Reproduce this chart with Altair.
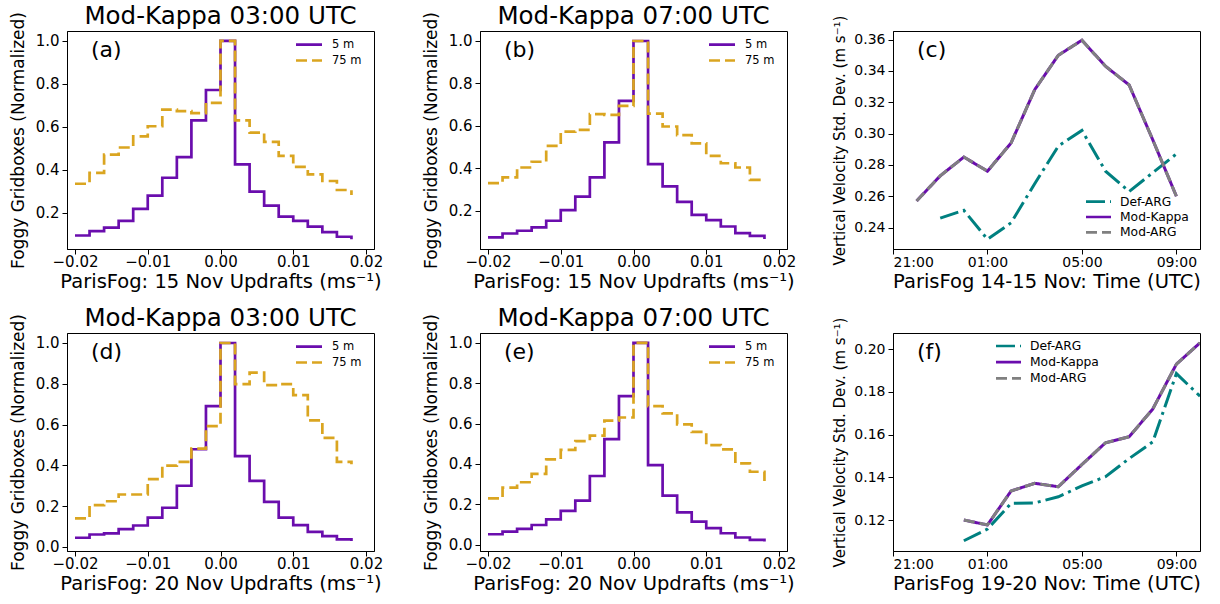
import altair as alt
import pandas as pd

FONT = "DejaVu Sans"

# ---------------- data ----------------
hist_edges = [-0.020, -0.018, -0.016, -0.014, -0.012, -0.010, -0.008, -0.006, -0.004, -0.002,
              0.000, 0.002, 0.004, 0.006, 0.008, 0.010, 0.012, 0.014, 0.016, 0.018]
hist_xticks = [-0.02, -0.01, 0.0, 0.01, 0.02]
hist_series = ["5 m", "75 m"]

a_5m = [0.093, 0.113, 0.130, 0.161, 0.217, 0.279, 0.362, 0.458, 0.629, 0.771,
        1.0, 0.424, 0.297, 0.232, 0.181, 0.161, 0.134, 0.109, 0.087, 0.076]
a_75m = [0.334, 0.385, 0.470, 0.503, 0.555, 0.602, 0.680, 0.673, 0.663, 0.711,
         1.0, 0.629, 0.572, 0.529, 0.464, 0.413, 0.378, 0.347, 0.305, 0.282]
b_5m = [0.075, 0.093, 0.106, 0.122, 0.153, 0.203, 0.267, 0.357, 0.522, 0.718,
        1.0, 0.420, 0.315, 0.242, 0.181, 0.156, 0.126, 0.095, 0.082, 0.067]
b_75m = [0.330, 0.357, 0.404, 0.431, 0.506, 0.573, 0.581, 0.655, 0.652, 0.694,
         1.0, 0.658, 0.597, 0.556, 0.518, 0.459, 0.424, 0.404, 0.346, 0.340]
d_5m = [0.045, 0.061, 0.066, 0.087, 0.105, 0.144, 0.192, 0.300, 0.479, 0.690,
        1.0, 0.445, 0.324, 0.221, 0.144, 0.107, 0.074, 0.053, 0.037, 0.029]
d_75m = [0.140, 0.205, 0.224, 0.257, 0.257, 0.332, 0.399, 0.417, 0.482, 0.592,
         1.0, 0.798, 0.855, 0.793, 0.798, 0.744, 0.621, 0.535, 0.417, 0.406]
e_5m = [0.051, 0.064, 0.078, 0.097, 0.125, 0.167, 0.218, 0.340, 0.523, 0.736,
        1.0, 0.394, 0.243, 0.160, 0.114, 0.081, 0.056, 0.035, 0.023, 0.015]
e_75m = [0.229, 0.282, 0.309, 0.350, 0.422, 0.469, 0.513, 0.540, 0.614, 0.630,
         1.0, 0.686, 0.650, 0.596, 0.559, 0.493, 0.472, 0.403, 0.361, 0.315]

ts_series = ["Def-ARG", "Mod-Kappa", "Mod-ARG"]
time_tick_labels = ["21:00", "01:00", "05:00", "09:00"]

c_times_mod = ["22:00", "23:00", "00:00", "01:00", "02:00", "03:00", "04:00",
               "05:00", "06:00", "07:00", "08:00", "09:00"]
c_kappa = [0.257, 0.273, 0.285, 0.276, 0.294, 0.328, 0.350, 0.3596, 0.343, 0.331, 0.296, 0.260]
c_modarg = [0.257, 0.273, 0.285, 0.276, 0.294, 0.328, 0.350, 0.3596, 0.343, 0.331, 0.296, 0.260]
c_times_def = ["23:00", "00:00", "01:00", "02:00", "03:00", "04:00",
               "05:00", "06:00", "07:00", "08:00", "09:00"]
c_def = [0.246, 0.251, 0.2325, 0.243, 0.268, 0.292, 0.302, 0.276, 0.263, 0.275, 0.287]

f_times_mod = ["00:00", "01:00", "02:00", "03:00", "04:00", "05:00",
               "06:00", "07:00", "08:00", "09:00", "10:00"]
f_kappa = [0.120, 0.1177, 0.1336, 0.1372, 0.1356, 0.146, 0.1562, 0.159, 0.172, 0.193, 0.203]
f_modarg = [0.120, 0.1177, 0.1336, 0.1372, 0.1356, 0.146, 0.1562, 0.159, 0.172, 0.193, 0.203]
f_times_def = ["00:00", "01:00", "02:00", "03:00", "04:00", "05:00",
               "06:00", "07:00", "08:00", "09:00", "10:00"]
f_def = [0.1103, 0.1158, 0.1278, 0.128, 0.1309, 0.136, 0.1403, 0.1488, 0.1566, 0.1886, 0.178]

# ---------------- styles ----------------
W, H = 307, 218
PURPLE, GOLD, TEAL, GREY = "#6a0dad", "#daa520", "#008080", "#808080"
hist_colors = [PURPLE, GOLD]
hist_dashes = [[1, 0], [11, 5]]
ts_colors = [TEAL, PURPLE, GREY]
ts_dashes = [[19, 5, 3, 5], [1, 0], [11, 5]]


def hours_after_21(s):
    return (int(s[:2]) - 21) % 24


def text_layer(text, x, y, size, align="left", baseline="middle"):
    return alt.Chart(pd.DataFrame({"t": [text]})).mark_text(
        align=align, baseline=baseline, fontSize=size, font=FONT, color="black"
    ).encode(x=alt.value(x), y=alt.value(y), text="t:N")


def legend_layers(names, colors, dashes, x0, x1, xt, ys, fs):
    ldf = pd.DataFrame({"series": names})
    yenc = alt.Y("series:N", scale=alt.Scale(type="point", domain=names, range=ys, padding=0), axis=None)
    rules = alt.Chart(ldf).mark_rule(strokeWidth=2.7).encode(
        x=alt.value(x0), x2=alt.value(x1), y=yenc,
        color=alt.Color("series:N", scale=alt.Scale(domain=names, range=colors), legend=None),
        strokeDash=alt.StrokeDash("series:N", scale=alt.Scale(domain=names, range=dashes), legend=None),
    )
    texts = alt.Chart(ldf).mark_text(align="left", baseline="middle", fontSize=fs, font=FONT,
                                     color="black").encode(
        x=alt.value(xt), y=yenc, text="series:N")
    return rules, texts


def hist_panel(v5, v75, title, xtitle, label, ydom, yticks):
    rows = []
    for name, vals in zip(hist_series, [v5, v75]):
        for x, v in zip(hist_edges, vals):
            rows.append({"x": x, "value": v, "series": name})
    df = pd.DataFrame(rows)
    xenc = alt.X("x:Q", scale=alt.Scale(domain=[-0.0211, 0.0211], nice=False, zero=False),
                 axis=alt.Axis(values=hist_xticks, format=".2f", title=xtitle, titleFontSize=19.5,
                               labelFontSize=15, titlePadding=3, labelPadding=0))
    yenc = alt.Y("value:Q", scale=alt.Scale(domain=ydom, nice=False, zero=False),
                 axis=alt.Axis(values=yticks, format=".1f", title="Foggy Gridboxes (Normalized)",
                               titleFontSize=17, labelFontSize=15, titlePadding=8))
    layers = []
    for name, col, dash in zip(hist_series, hist_colors, hist_dashes):
        layers.append(alt.Chart(df).transform_filter(alt.datum.series == name).mark_line(
            interpolate="step-after", strokeWidth=2.7, color=col, strokeDash=dash, clip=True
        ).encode(x=xenc, y=yenc))
    rules, texts = legend_layers(hist_series, hist_colors, hist_dashes, 229, 255, 265, [13.7, 29.5], 11.5)
    return alt.layer(alt.layer(*layers), rules, texts, text_layer(label, 24, 19, 22),
                     text_layer(title, W / 2, -7, 24.5, align="center", baseline="alphabetic")
                     ).resolve_scale(
        y="independent", color="independent", strokeDash="independent").properties(width=W, height=H)


def ts_panel(times_def, vdef, times_mod, vkappa, vmodarg, xtitle, label, ydom, yticks, lx, lys):
    rows = []
    for t, v in zip(times_def, vdef):
        rows.append({"t": hours_after_21(t), "value": v, "series": "Def-ARG"})
    for t, v in zip(times_mod, vkappa):
        rows.append({"t": hours_after_21(t), "value": v, "series": "Mod-Kappa"})
    for t, v in zip(times_mod, vmodarg):
        rows.append({"t": hours_after_21(t), "value": v, "series": "Mod-ARG"})
    df = pd.DataFrame(rows)
    tick_vals = [hours_after_21(s) for s in time_tick_labels]
    expr = ""
    for v, s in zip(tick_vals, time_tick_labels):
        expr += f"datum.value == {v} ? '{s}' : "
    expr += "''"
    xenc = alt.X("t:Q", scale=alt.Scale(domain=[0, 13], nice=False, zero=False),
                 axis=alt.Axis(values=tick_vals, labelExpr=expr, title=xtitle, titleFontSize=19.5,
                               labelFontSize=14, titlePadding=3, labelPadding=1))
    yenc = alt.Y("value:Q", scale=alt.Scale(domain=ydom, nice=False, zero=False),
                 axis=alt.Axis(values=yticks, format=".2f", title="Vertical Velocity Std. Dev. (m s⁻¹)",
                               titleFontSize=15, labelFontSize=14, titlePadding=6))
    layers = []
    for name, col, dash in zip(ts_series, ts_colors, ts_dashes):
        layers.append(alt.Chart(df).transform_filter(alt.datum.series == name).mark_line(
            strokeWidth=3, color=col, strokeDash=dash, clip=True
        ).encode(x=xenc, y=yenc))
    rules, texts = legend_layers(ts_series, ts_colors, ts_dashes, lx, lx + 25, lx + 34, lys, 12.3)
    return alt.layer(alt.layer(*layers), rules, texts, text_layer(label, 24, 19, 22)).resolve_scale(
        y="independent", color="independent", strokeDash="independent").properties(
        width=W, height=H)


hist_yticks_top = [0.2, 0.4, 0.6, 0.8, 1.0]
hist_yticks_bot = [0.0, 0.2, 0.4, 0.6, 0.8, 1.0]

pa = hist_panel(a_5m, a_75m, "Mod-Kappa 03:00 UTC", "ParisFog: 15 Nov Updrafts (ms⁻¹)", "(a)",
                [0.03, 1.046], hist_yticks_top)
pb = hist_panel(b_5m, b_75m, "Mod-Kappa 07:00 UTC", "ParisFog: 15 Nov Updrafts (ms⁻¹)", "(b)",
                [0.02, 1.047], hist_yticks_top)
pc = ts_panel(c_times_def, c_def, c_times_mod, c_kappa, c_modarg, "ParisFog 14-15 Nov: Time (UTC)", "(c)",
              [0.2263, 0.3655], [0.24, 0.26, 0.28, 0.30, 0.32, 0.34, 0.36], 193, [170.7, 201.3])
pd_ = hist_panel(d_5m, d_75m, "Mod-Kappa 03:00 UTC", "ParisFog: 20 Nov Updrafts (ms⁻¹)", "(d)",
                 [-0.02, 1.049], hist_yticks_bot)
pe = hist_panel(e_5m, e_75m, "Mod-Kappa 07:00 UTC", "ParisFog: 20 Nov Updrafts (ms⁻¹)", "(e)",
                [-0.032, 1.049], hist_yticks_bot)
pf = ts_panel(f_times_def, f_def, f_times_mod, f_kappa, f_modarg, "ParisFog 19-20 Nov: Time (UTC)", "(f)",
              [0.1055, 0.2076], [0.12, 0.14, 0.16, 0.18, 0.20], 103, [13, 45.3])

chart = alt.concat(pa, pb, pc, pd_, pe, pf, columns=3, spacing={"row": 84, "column": 106},
                   bounds="flush").resolve_scale(
    color="independent", strokeDash="independent"
).properties(
    padding={"left": 8, "top": 3, "right": 5, "bottom": 2},
    background="white",
).configure(font=FONT).configure_view(stroke="black", strokeWidth=1).configure_axis(
    tickSize=5, tickColor="black", domainColor="black", labelColor="black", titleColor="black",
    labelFont=FONT, titleFont=FONT, titleFontWeight="normal", grid=False, labelPadding=3,
)

chart.save("out.html", embed_options={"renderer": "svg", "actions": False})
